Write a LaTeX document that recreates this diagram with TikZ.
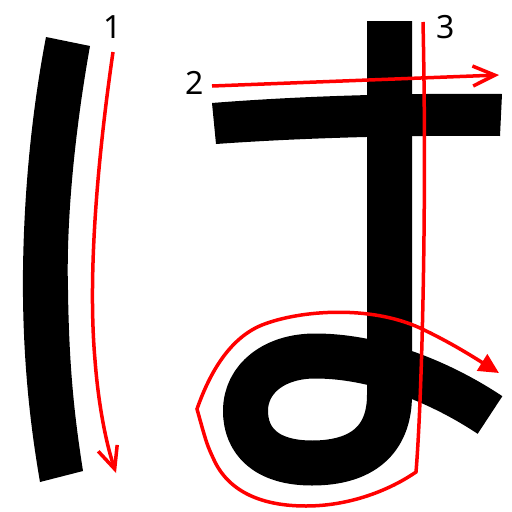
\documentclass[tikz,border=0pt]{standalone}
\usepackage{fontspec}
\setmainfont{Noto Sans}
\usetikzlibrary{arrows.meta}
\tikzset{
  ink/.style={fill=black, draw=none},
  inkline/.style={draw=black, line width=45pt, line cap=butt, line join=round},
  redline/.style={draw=red, line width=3.5pt, line join=miter},
  barbtip/.style={-{Straight Barb[length=22pt,width=20pt]}},
  tritip/.style={-{Triangle[length=20pt,width=19pt]}},
  numlabel/.style={font=\fontsize{32}{32}\selectfont, inner sep=0pt}
}
\begin{document}
\begin{tikzpicture}[x=1pt,y=-1pt]
\useasboundingbox (0,0) rectangle (512,512);
\fill[white] (0,0) rectangle (512,512);
% stroke 1
\fill[ink] (46,37) -- (90,46) .. controls (75,130) and (66,220) .. (68,290)
  .. controls (69,370) and (75,420) .. (83,471) -- (40,482)
  .. controls (31,430) and (22,360) .. (23,270)
  .. controls (24,190) and (32,110) .. (46,37) -- cycle;
% stroke 2
\fill[ink] (212,103) .. controls (300,96) and (400,93) .. (502,94) -- (500,136)
  .. controls (400,135) and (300,138) .. (216,144) -- cycle;
% stroke 3
\draw[inkline] (389.5,21) -- (389.5,395) .. controls (389.5,440) and (362,463) .. (312,463)
  .. controls (265,463) and (245.5,440) .. (245.5,411)
  .. controls (245.5,378) and (275,356) .. (315,356)
  .. controls (380,356) and (445,385) .. (490,415);
% red guides
\coordinate (s1) at (113,52);
\coordinate (e1) at (116,473);
\draw[redline, barbtip] (s1) .. controls (96,170) and (88,280) .. (95,360)
  .. controls (98,400) and (105,440) .. (e1);
\coordinate (s2) at (212,86);
\coordinate (e2) at (499,75);
\draw[redline, barbtip] (s2) -- (e2);
\coordinate (s3) at (423,22);
\coordinate (e3) at (499,373);
\draw[redline, tritip] (s3) .. controls (427,200) and (422,400) .. (416,472)
  .. controls (390,490) and (350,506) .. (306,506)
  .. controls (262,506) and (230,492) .. (215,462)
  .. controls (207,445) .. (197,409)
  .. controls (210,372) and (230,338) .. (262,325)
  .. controls (300,310) and (370,305) .. (420,328)
  .. controls (450,342) and (475,358) .. (e3);
% labels
\node[numlabel] (n1) at (113,27) {1};
\node[numlabel] (n2) at (195,83) {2};
\node[numlabel] (n3) at (446,27) {3};
\end{tikzpicture}
\end{document}
